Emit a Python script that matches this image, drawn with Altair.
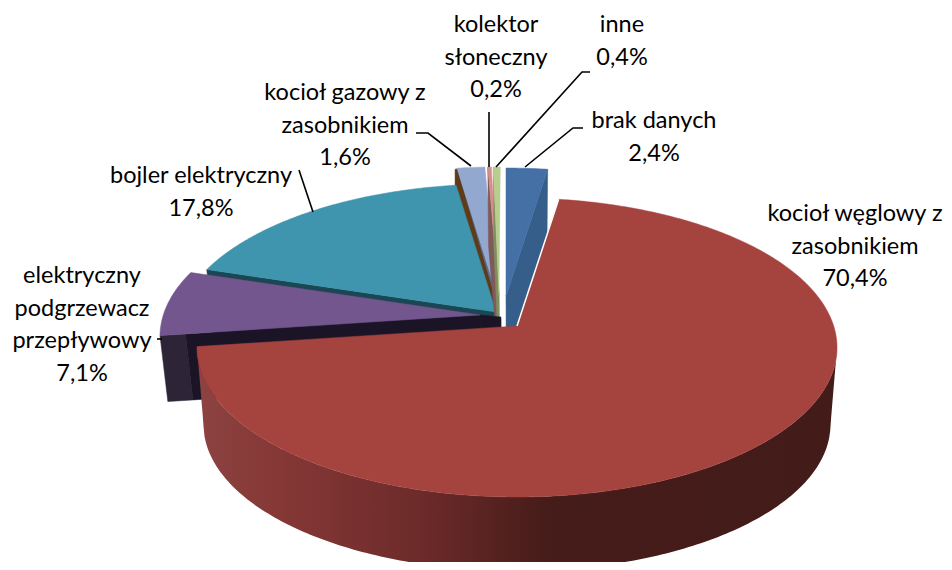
import altair as alt
import numpy as np
import pandas as pd

names = ["brak danych", "kocioł węglowy z\nzasobnikiem", "elektryczny\npodgrzewacz\nprzepływowy",
         "bojler elektryczny", "kocioł gazowy z\nzasobnikiem", "kolektor\nsłoneczny", "inne"]
values = [2.4, 70.4, 7.1, 17.8, 1.6, 0.2, 0.4]
pct_text = ["2,4%", "70,4%", "7,1%", "17,8%", "1,6%", "0,2%", "0,4%"]
top_colors = ["#4470a6", "#a5433f", "#72568d", "#3f94ae", "#93a8cf", "#d98d8a", "#b9cd8e"]
wall_colors = ["#365e8a", "#421b18", "#1b1426", "#1b4654", "#5d7197", "#7f5a5a", "#808f60"]
# screen displacement of each exploded slice: rim, and tip
explode = [(-11, -30), (0, 0), (-37, -11), (-21, -14), (-20, -31), (-17, -31), (-15, -31)]
tip_shift = [(0, 0), (0, 0), (0, 0), (0, 0), (0, 0), (-1, 0), (-3, 0)]
label_pos = [(654, 121), (855, 214), (82, 276), (201, 176), (345, 93), (496, 25), (622, 25)]
leaders = [
    [(583, 128), (573, 128), (525, 167)],
    [(590, 72), (582, 72), (496, 167)],
    [(489, 112), (489, 167)],
    [(416, 133), (428, 133), (471, 166)],
    [(299, 170), (313, 212)],
    [(157, 339), (162, 339)],
]

CX, CY, A, B, K = 517, 326, 316.7, 146.4, 0.1438
DEPTH = 78
LINE = 32.5
xs = alt.Scale(domain=[8, 944], nice=False, zero=False)
ys = alt.Scale(domain=[562, 8], nice=False, zero=False)


def proj(deg, off=(0, 0), r=1.0, cx=CX, cy=CY):
    t = np.radians(deg)
    X, Y = r * np.sin(t), r * np.cos(t)
    w = 1 + K * Y
    return np.c_[cx + A * X / w + off[0], cy - B * Y / w + off[1]]


def poly(pts, color):
    pts = np.asarray(pts, float)
    df = pd.DataFrame({"x": pts[:, 0], "y": pts[:, 1], "i": range(len(pts))})
    return alt.Chart(df).mark_line(fill=color, stroke=color, strokeWidth=0.5,
                                   interpolate="linear-closed").encode(
        x=alt.X("x:Q", scale=xs, axis=None), y=alt.Y("y:Q", scale=ys, axis=None), order="i:Q")


def drop(p, d=DEPTH):
    p = np.asarray(p, float)
    return np.c_[p[:, 0] + (CX - p[:, 0]) * 0.022, p[:, 1] + d]


# slice angles
edges = np.r_[0, np.cumsum(values)] * 3.6
arcs, apex = [], []
for j in range(len(values)):
    th = np.linspace(edges[j], edges[j + 1], max(4, int(values[j] * 6)))
    arcs.append(proj(th, explode[j]))
    apex.append(np.array([[CX + explode[j][0] + tip_shift[j][0],
                           CY + explode[j][1] + tip_shift[j][1]]]))


def top(j):
    return poly(np.vstack([apex[j], arcs[j]]), top_colors[j])


def face(a, b, color, d=DEPTH):
    edge = np.vstack([a, b])
    return poly(np.vstack([edge, drop(edge, d)[::-1]]), color)


layers = []
# back small slices: cut faces
layers.append(face(arcs[4][:1], apex[4], wall_colors[4]))
# thin brown sliver next to the gas boiler slice
corner = arcs[4][0] + np.array([-2, 1])
layers.append(poly(np.vstack([corner, corner + [2, 0], apex[4] + [-3, 0], apex[4] + [-1, 25],
                              corner + [0, 22]]), "#5f3b18"))
# teal
layers.append(face(arcs[3][:1], apex[3], wall_colors[3]))
layers.append(top(3))
layers.append(top(4))
layers.append(face(arcs[5][:1], apex[5], wall_colors[5]))
layers.append(top(5))
layers.append(face(arcs[6][:1], apex[6], wall_colors[6]))
layers.append(top(6))
# blue
layers.append(face(arcs[0][-1:], apex[0], wall_colors[0]))
layers.append(top(0))
# purple: cut face in two shades, then the top
pc, pa = arcs[2][0], apex[2][0]
split = pc + (pa - pc) * 0.08
tail = pa + np.array([21, 2])
layers.append(face(pc[None], split[None], "#2e2438", 66))
layers.append(face(split[None], pa[None], wall_colors[2], 66))
layers.append(face(pa[None], tail[None], wall_colors[2], 30))
layers.append(top(2))

# red wall: upper front arc and lower front arc as an area with gradient
th_front = np.linspace(98.3, 261.9, 200)
up = proj(th_front)
low = proj(th_front, cx=CX, cy=CY + DEPTH, r=0.98)
order = np.argsort(up[:, 0])
ux, uy = up[order, 0], up[order, 1]
lo = low[np.argsort(low[:, 0])]
lo_full = np.vstack([[ux[0], uy[0]], lo, [ux[-1], uy[-1]]])
wall_df = pd.DataFrame({"x": ux, "y": uy, "y2": np.interp(ux, lo_full[:, 0], lo_full[:, 1])})
stops = [(0, "#8c4341"), (0.13, "#853836"), (0.36, "#6b2a29"), (0.55, "#451c19"), (1, "#431b18")]
grad = alt.Gradient(gradient="linear", x1=0, x2=1, y1=0, y2=0,
                    stops=[alt.GradientStop(offset=o, color=c) for o, c in stops])
layers.append(alt.Chart(wall_df).mark_area(color=grad).encode(
    x=alt.X("x:Q", scale=xs, axis=None), y=alt.Y("y:Q", scale=ys, axis=None), y2="y2:Q"))
layers.append(top(1))
# highlight along the red slice's first edge
edge = np.vstack([apex[1], arcs[1][:1]])
edge_df = pd.DataFrame({"x": edge[:, 0], "y": edge[:, 1], "i": [0, 1]})
layers.append(alt.Chart(edge_df).mark_line(color="white", strokeWidth=1.5).encode(
    x=alt.X("x:Q", scale=xs, axis=None), y=alt.Y("y:Q", scale=ys, axis=None), order="i:Q"))

# leader lines
for pts in leaders:
    pts = np.asarray(pts, float)
    d = pd.DataFrame({"x": pts[:, 0], "y": pts[:, 1], "i": range(len(pts))})
    layers.append(alt.Chart(d).mark_line(color="black", strokeWidth=1.6).encode(
        x=alt.X("x:Q", scale=xs, axis=None), y=alt.Y("y:Q", scale=ys, axis=None), order="i:Q"))

# labels
rows = []
for nm, pc_t, (lx, ly) in zip(names, pct_text, label_pos):
    for n, line in enumerate(nm.split("\n") + [pc_t]):
        rows.append({"x": lx, "y": ly + n * LINE, "t": line})
layers.append(alt.Chart(pd.DataFrame(rows)).mark_text(
    font="Lato", fontSize=23.5, color="#000000", align="center", baseline="middle").encode(
    x=alt.X("x:Q", scale=xs, axis=None), y=alt.Y("y:Q", scale=ys, axis=None), text="t:N"))

chart = alt.layer(*layers).properties(
    width=936, height=554, padding=0, autosize=alt.AutoSizeParams(type="none"), background="white"
).configure_view(stroke=None)

chart.save("out.html", embed_options={"renderer": "svg", "actions": False})
